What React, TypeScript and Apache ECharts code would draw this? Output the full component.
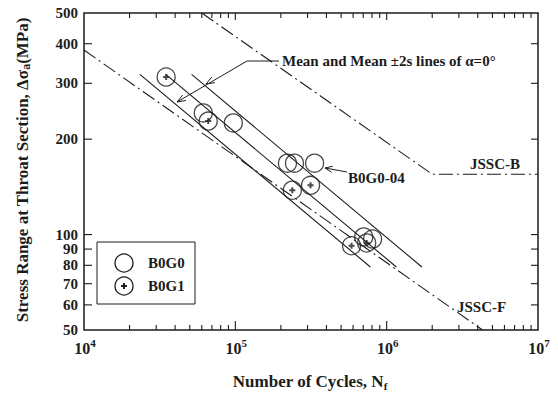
import React, { useEffect, useRef } from 'react';
import * as echarts from 'echarts';

// ---- axis bounds ----
const X_MIN = 1e4;
const X_MAX = 1e7;
const Y_MIN = 50;
const Y_MAX = 500;

// ---- test data (N cycles, stress range MPa) ----
const b0g0N = [61400, 97000, 221000, 246000, 334000, 705000, 807000];
const b0g0S = [242, 225, 168, 168, 168, 98.3, 96.8];
const b0g1N = [34900, 66200, 238000, 314000, 586000, 738000];
const b0g1S = [314, 228, 138, 143, 92.2, 94.1];

// ---- mean and mean ±2s lines of alpha = 0 deg ----
const upperN = [51400, 1710000];
const upperS = [320, 79];
const meanN = [34700, 1160000];
const meanS = [320, 79];
const lowerN = [23400, 781000];
const lowerS = [320, 79];

// ---- JSSC design curves ----
const jsscBN = [60000, 2000000, 10000000];
const jsscBS = [500, 155, 155];
const jsscFN = [10000, 4300000];
const jsscFS = [382, 50];

// ---- ticks ----
const xMajorTicks = [1e4, 1e5, 1e6, 1e7];
const xLabelExponents = ['4', '5', '6', '7'];
const xMinorTicks = [
  2e4, 3e4, 4e4, 5e4, 6e4, 7e4, 8e4, 9e4,
  2e5, 3e5, 4e5, 5e5, 6e5, 7e5, 8e5, 9e5,
  2e6, 3e6, 4e6, 5e6, 6e6, 7e6, 8e6, 9e6,
];
const yTicks = [50, 60, 70, 80, 90, 100, 200, 300, 400, 500];
const yTickLabels = ['50', '60', '70', '80', '90', '100', '200', '300', '400', '500'];

const INK = '#1c1c1c';
const FONT = '"Liberation Serif", "Times New Roman", serif';

const zip = (a: number[], b: number[]) => a.map((v, i) => [v, b[i]]);

function arrowHead(tip: number[], from: number[], len = 9, spread = 0.36) {
  const dx = from[0] - tip[0];
  const dy = from[1] - tip[1];
  const d = Math.hypot(dx, dy);
  const ux = dx / d;
  const uy = dy / d;
  const rot = (a: number) => [
    tip[0] + len * (ux * Math.cos(a) - uy * Math.sin(a)),
    tip[1] + len * (ux * Math.sin(a) + uy * Math.cos(a)),
  ];
  return {
    type: 'polyline',
    shape: { points: [rot(spread), tip, rot(-spread)] },
    style: { stroke: INK, fill: null, lineWidth: 1 },
  };
}

const txt = (size: number) => ({
  fontFamily: FONT,
  fontWeight: 'bold',
  fontSize: size,
  fill: INK,
});

export default function App() {
  const ref = useRef<HTMLDivElement>(null);

  useEffect(() => {
    if (!ref.current) return;
    const chart = echarts.init(ref.current, null, { renderer: 'svg' });

    const solid = (name: string, n: number[], s: number[]) => ({
      name,
      type: 'line',
      data: zip(n, s),
      symbol: 'none',
      silent: true,
      lineStyle: { color: INK, width: 1.1, type: 'solid' },
      z: 2,
    });
    const dashDot = (name: string, n: number[], s: number[]) => ({
      name,
      type: 'line',
      data: zip(n, s),
      symbol: 'none',
      silent: true,
      lineStyle: { color: INK, width: 1.1, type: [14, 4, 2, 4] },
      z: 2,
    });

    const xTickData = [
      ...xMinorTicks.map((v) => [v, Y_MIN, 0]),
      ...xMajorTicks.slice(1, -1).map((v) => [v, Y_MIN, 1]),
    ];

    const tickStyle = { stroke: INK, lineWidth: 1.1 };

    const option: any = {
      animation: false,
      backgroundColor: '#ffffff',
      grid: {
        left: 84,
        top: 13,
        right: 20,
        bottom: 65,
        show: true,
        borderColor: INK,
        borderWidth: 1.5,
        backgroundColor: 'transparent',
      },
      xAxis: {
        type: 'log',
        logBase: 10,
        min: X_MIN,
        max: X_MAX,
        axisLine: { show: false },
        axisTick: { show: false },
        axisLabel: { show: false },
        splitLine: { show: false },
      },
      yAxis: {
        type: 'log',
        logBase: 10,
        min: Y_MIN,
        max: Y_MAX,
        axisLine: { show: false },
        axisTick: { show: false },
        axisLabel: { show: false },
        splitLine: { show: false },
      },
      series: [
        solid('Mean+2s', upperN, upperS),
        solid('Mean', meanN, meanS),
        solid('Mean-2s', lowerN, lowerS),
        dashDot('JSSC-B', jsscBN, jsscBS),
        dashDot('JSSC-F', jsscFN, jsscFS),
        {
          name: 'B0G0',
          type: 'scatter',
          data: zip(b0g0N, b0g0S),
          symbol: 'circle',
          symbolSize: 18,
          itemStyle: { color: 'rgba(0,0,0,0)', borderColor: INK, borderWidth: 1.3 },
          z: 3,
        },
        {
          name: 'B0G1',
          type: 'scatter',
          data: zip(b0g1N, b0g1S),
          symbol: 'circle',
          symbolSize: 18,
          itemStyle: { color: 'rgba(0,0,0,0)', borderColor: INK, borderWidth: 1.3 },
          z: 3,
        },
        {
          name: 'B0G1 cross',
          type: 'scatter',
          data: zip(b0g1N, b0g1S),
          symbol: 'path://M2,0H4V2H6V4H4V6H2V4H0V2H2Z',
          symbolSize: 6,
          itemStyle: { color: INK },
          z: 4,
        },
        // x ticks (bottom and top, inward)
        {
          type: 'custom',
          silent: true,
          clip: false,
          z: 5,
          data: xTickData,
          encode: { x: 0, y: 1 },
          renderItem: (params: any, api: any) => {
            const v = api.value(0);
            const major = api.value(2) === 1;
            const b = api.coord([v, Y_MIN]);
            const t = api.coord([v, Y_MAX]);
            const lb = major ? 9 : 5;
            const lt = major ? 7 : 5;
            return {
              type: 'group',
              children: [
                { type: 'line', shape: { x1: b[0], y1: b[1], x2: b[0], y2: b[1] - lb }, style: tickStyle },
                { type: 'line', shape: { x1: t[0], y1: t[1], x2: t[0], y2: t[1] + lt }, style: tickStyle },
              ],
            };
          },
        },
        // x labels
        {
          type: 'custom',
          silent: true,
          clip: false,
          z: 5,
          data: xMajorTicks.map((v) => [v, Y_MIN]),
          encode: { x: 0, y: 1 },
          renderItem: (params: any, api: any) => {
            const p = api.coord([api.value(0), Y_MIN]);
            return {
              type: 'text',
              x: p[0] + 1,
              y: p[1] + 18,
              style: {
                text: '{m|10}{s|' + xLabelExponents[params.dataIndex] + '}',
                align: 'center',
                verticalAlign: 'middle',
                rich: {
                  m: { ...txt(16), lineHeight: 21 },
                  s: { ...txt(11), lineHeight: 9, verticalAlign: 'top' },
                },
              },
            };
          },
        },
        // y ticks and labels
        {
          type: 'custom',
          silent: true,
          clip: false,
          z: 5,
          data: yTicks.map((v) => [X_MIN, v]),
          encode: { x: 0, y: 1 },
          renderItem: (params: any, api: any) => {
            const v = api.value(1);
            const l = api.coord([X_MIN, v]);
            const r = api.coord([X_MAX, v]);
            const children: any[] = [
              {
                type: 'text',
                x: l[0] - 6,
                y: l[1],
                style: {
                  text: yTickLabels[params.dataIndex],
                  align: 'right',
                  verticalAlign: 'middle',
                  ...txt(15),
                },
              },
            ];
            if (v !== Y_MIN && v !== Y_MAX) {
              children.push(
                { type: 'line', shape: { x1: l[0], y1: l[1], x2: l[0] + 8, y2: l[1] }, style: tickStyle },
                { type: 'line', shape: { x1: r[0], y1: r[1], x2: r[0] - 7, y2: r[1] }, style: tickStyle },
              );
            }
            return { type: 'group', children };
          },
        },
      ],
      graphic: [
        // axis titles
        {
          type: 'text',
          x: 310,
          y: 381,
          style: {
            text: '{m|Number of Cycles, N}{s|f}',
            align: 'center',
            verticalAlign: 'middle',
            rich: {
              m: { ...txt(17), lineHeight: 20 },
              s: { ...txt(11), lineHeight: 11, verticalAlign: 'bottom' },
            },
          },
        },
        {
          type: 'text',
          x: 22,
          y: 170,
          rotation: Math.PI / 2,
          style: {
            text: '{m|Stress Range at Throat Section, Δσ}{s|a}{m|(MPa)}',
            align: 'center',
            verticalAlign: 'middle',
            rich: {
              m: { ...txt(17), lineHeight: 20 },
              s: { ...txt(12), lineHeight: 11, verticalAlign: 'bottom' },
            },
          },
        },
        // legend
        {
          type: 'rect',
          shape: { x: 97, y: 242, width: 98, height: 62 },
          style: { fill: '#ffffff', stroke: INK, lineWidth: 1 },
          z: 10,
        },
        {
          type: 'circle',
          shape: { cx: 124, cy: 263, r: 9 },
          style: { fill: 'none', stroke: INK, lineWidth: 1.3 },
          z: 11,
        },
        {
          type: 'circle',
          shape: { cx: 124, cy: 286, r: 9 },
          style: { fill: 'none', stroke: INK, lineWidth: 1.3 },
          z: 11,
        },
        { type: 'rect', shape: { x: 121, y: 285, width: 6, height: 2 }, style: { fill: INK }, z: 11 },
        { type: 'rect', shape: { x: 123, y: 283, width: 2, height: 6 }, style: { fill: INK }, z: 11 },
        { type: 'text', x: 148, y: 263, style: { text: 'B0G0', verticalAlign: 'middle', ...txt(15) }, z: 11 },
        { type: 'text', x: 148, y: 286, style: { text: 'B0G1', verticalAlign: 'middle', ...txt(15) }, z: 11 },
        // annotation: mean and mean ±2s lines
        {
          type: 'text',
          x: 282,
          y: 61,
          style: { text: 'Mean and Mean ±2s lines of α=0°', verticalAlign: 'middle', ...txt(15) },
          z: 11,
        },
        {
          type: 'polyline',
          shape: { points: [[279, 61], [247, 61], [177, 102]] },
          style: { stroke: INK, fill: null, lineWidth: 1 },
          z: 11,
        },
        { ...arrowHead([206, 84], [247, 61]), z: 11 },
        { ...arrowHead([177, 102], [247, 61]), z: 11 },
        // annotation: B0G0-04
        {
          type: 'line',
          shape: { x1: 347, y1: 172, x2: 325, y2: 168 },
          style: { stroke: INK, lineWidth: 1 },
          z: 11,
        },
        { ...arrowHead([325, 168], [347, 172], 8, 0.4), z: 11 },
        { type: 'text', x: 348, y: 178, style: { text: 'B0G0-04', verticalAlign: 'middle', ...txt(15) }, z: 11 },
        // JSSC labels
        { type: 'text', x: 470, y: 164, style: { text: 'JSSC-B', verticalAlign: 'middle', ...txt(15) }, z: 11 },
        { type: 'text', x: 457, y: 307, style: { text: 'JSSC-F', verticalAlign: 'middle', ...txt(15) }, z: 11 },
      ],
    };

    chart.setOption(option);
    return () => chart.dispose();
  }, []);

  return (
    <div
      ref={ref}
      style={{ position: 'absolute', left: 0, top: 0, width: 558, height: 395, background: '#ffffff' }}
    />
  );
}
